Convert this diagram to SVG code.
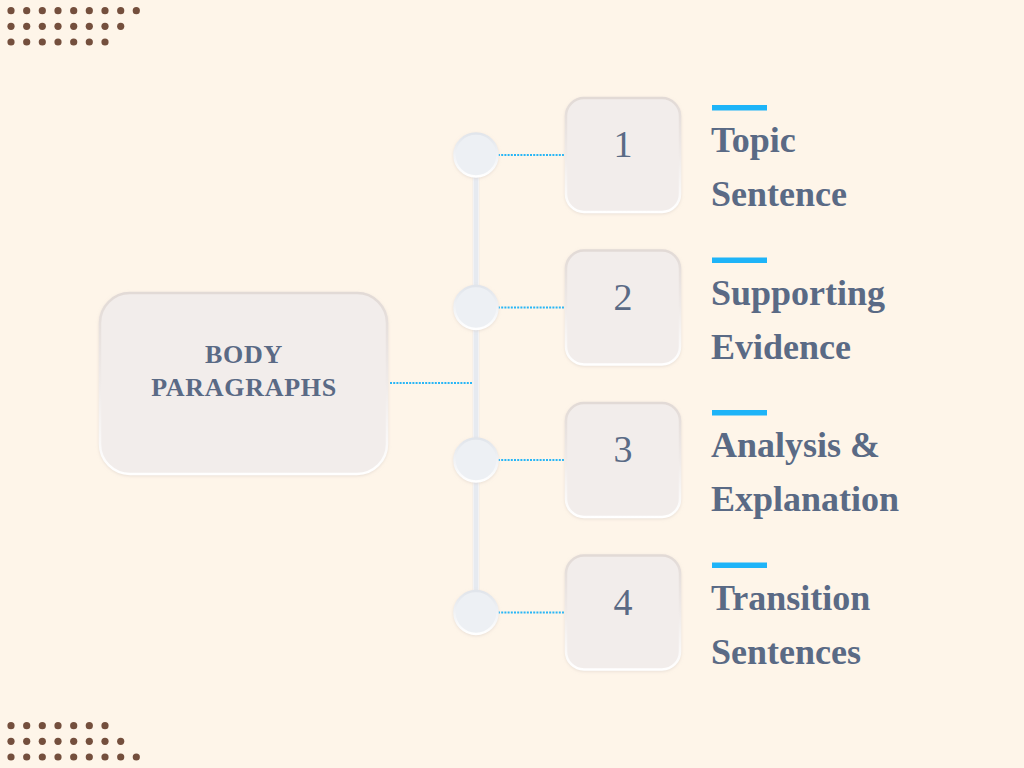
<svg xmlns="http://www.w3.org/2000/svg" width="1024" height="768" viewBox="0 0 1024 768">
<defs>
<linearGradient id="edge" x1="0" y1="0" x2="0" y2="1">
<stop offset="0" stop-color="#E2DAD6"/>
<stop offset="0.5" stop-color="#F0EBE9"/>
<stop offset="1" stop-color="#FFFFFF"/>
</linearGradient>
<linearGradient id="cedge" x1="0" y1="0" x2="0" y2="1">
<stop offset="0" stop-color="#E1E5EB"/>
<stop offset="1" stop-color="#FFFFFF"/>
</linearGradient>
<filter id="sh" x="-20%" y="-20%" width="140%" height="140%">
<feDropShadow dx="0" dy="1" stdDeviation="1.5" flood-color="#D6CBC4" flood-opacity="0.5"/>
</filter>
</defs>
<style>
.bg{fill:#FEF5E9}
.dot{fill:#744F3D}
.box{fill:#F2EDEB;stroke:url(#edge);stroke-width:2.5;filter:url(#sh)}
.node{fill:#EDF0F4;stroke:url(#cedge);stroke-width:2.5;filter:url(#sh)}
.dotted{stroke:#29B6F6;stroke-width:2;stroke-dasharray:2 1.2;fill:none}
.num{font-family:"Liberation Serif",serif;font-size:38px;fill:#5A6A85;text-anchor:middle}
.title{font-family:"Liberation Serif",serif;font-weight:bold;font-size:36px;fill:#5A6A85}
.main{font-family:"Liberation Serif",serif;font-weight:bold;font-size:26px;fill:#5A6A85;text-anchor:middle;letter-spacing:0.7px}
.bar{fill:#1EB4F8}
</style>
<rect class="bg" x="0" y="0" width="1024" height="768"/>
<g id="dots-top" class="dot">
<circle cx="11" cy="10.7" r="3.6"/><circle cx="26.7" cy="10.7" r="3.6"/><circle cx="42.3" cy="10.7" r="3.6"/><circle cx="58" cy="10.7" r="3.6"/><circle cx="73.7" cy="10.7" r="3.6"/><circle cx="89.3" cy="10.7" r="3.6"/><circle cx="105" cy="10.7" r="3.6"/><circle cx="120.7" cy="10.7" r="3.6"/><circle cx="136.3" cy="10.7" r="3.6"/>
<circle cx="11" cy="26.3" r="3.6"/><circle cx="26.7" cy="26.3" r="3.6"/><circle cx="42.3" cy="26.3" r="3.6"/><circle cx="58" cy="26.3" r="3.6"/><circle cx="73.7" cy="26.3" r="3.6"/><circle cx="89.3" cy="26.3" r="3.6"/><circle cx="105" cy="26.3" r="3.6"/><circle cx="120.7" cy="26.3" r="3.6"/>
<circle cx="11" cy="42" r="3.6"/><circle cx="26.7" cy="42" r="3.6"/><circle cx="42.3" cy="42" r="3.6"/><circle cx="58" cy="42" r="3.6"/><circle cx="73.7" cy="42" r="3.6"/><circle cx="89.3" cy="42" r="3.6"/><circle cx="105" cy="42" r="3.6"/>
</g>
<g id="dots-bottom" class="dot">
<circle cx="11" cy="725.7" r="3.6"/><circle cx="26.7" cy="725.7" r="3.6"/><circle cx="42.3" cy="725.7" r="3.6"/><circle cx="58" cy="725.7" r="3.6"/><circle cx="73.7" cy="725.7" r="3.6"/><circle cx="89.3" cy="725.7" r="3.6"/><circle cx="105" cy="725.7" r="3.6"/>
<circle cx="11" cy="741.3" r="3.6"/><circle cx="26.7" cy="741.3" r="3.6"/><circle cx="42.3" cy="741.3" r="3.6"/><circle cx="58" cy="741.3" r="3.6"/><circle cx="73.7" cy="741.3" r="3.6"/><circle cx="89.3" cy="741.3" r="3.6"/><circle cx="105" cy="741.3" r="3.6"/><circle cx="120.7" cy="741.3" r="3.6"/>
<circle cx="11" cy="757" r="3.6"/><circle cx="26.7" cy="757" r="3.6"/><circle cx="42.3" cy="757" r="3.6"/><circle cx="58" cy="757" r="3.6"/><circle cx="73.7" cy="757" r="3.6"/><circle cx="89.3" cy="757" r="3.6"/><circle cx="105" cy="757" r="3.6"/><circle cx="120.7" cy="757" r="3.6"/><circle cx="136.3" cy="757" r="3.6"/>
</g>
<g id="connectors">
<rect x="473.2" y="165" width="5.6" height="440" fill="#E6EAF0" stroke="#F8F9FB" stroke-width="0.8" filter="url(#sh)"/>
<line class="dotted" x1="390" y1="383" x2="472" y2="383"/>
<line class="dotted" x1="498" y1="155" x2="565" y2="155"/>
<line class="dotted" x1="498" y1="307.5" x2="565" y2="307.5"/>
<line class="dotted" x1="498" y1="460" x2="565" y2="460"/>
<line class="dotted" x1="498" y1="612.5" x2="565" y2="612.5"/>
</g>
<g id="main">
<rect class="box" x="100" y="293" width="287" height="181" rx="30"/>
<text class="main" x="244" y="363">BODY</text>
<text class="main" x="244" y="396">PARAGRAPHS</text>
</g>
<g id="node1">
<circle class="node" cx="476" cy="155" r="21.5"/>
<rect class="box" x="566" y="98" width="114" height="114" rx="18"/>
<text class="num" x="623" y="157">1</text>
<rect class="bar" x="712" y="105" width="55" height="5.5"/>
<text class="title" x="711" y="152">Topic</text>
<text class="title" x="711" y="206">Sentence</text>
</g>
<g id="node2">
<circle class="node" cx="476" cy="307.5" r="21.5"/>
<rect class="box" x="566" y="250.5" width="114" height="114" rx="18"/>
<text class="num" x="623" y="309.5">2</text>
<rect class="bar" x="712" y="257.5" width="55" height="5.5"/>
<text class="title" x="711" y="304.5">Supporting</text>
<text class="title" x="711" y="358.5">Evidence</text>
</g>
<g id="node3">
<circle class="node" cx="476" cy="460" r="21.5"/>
<rect class="box" x="566" y="403" width="114" height="114" rx="18"/>
<text class="num" x="623" y="462">3</text>
<rect class="bar" x="712" y="410" width="55" height="5.5"/>
<text class="title" x="711" y="457">Analysis &amp;</text>
<text class="title" x="711" y="511">Explanation</text>
</g>
<g id="node4">
<circle class="node" cx="476" cy="612.5" r="21.5"/>
<rect class="box" x="566" y="555.5" width="114" height="114" rx="18"/>
<text class="num" x="623" y="614.5">4</text>
<rect class="bar" x="712" y="562.5" width="55" height="5.5"/>
<text class="title" x="711" y="609.5">Transition</text>
<text class="title" x="711" y="663.5">Sentences</text>
</g>
</svg>
